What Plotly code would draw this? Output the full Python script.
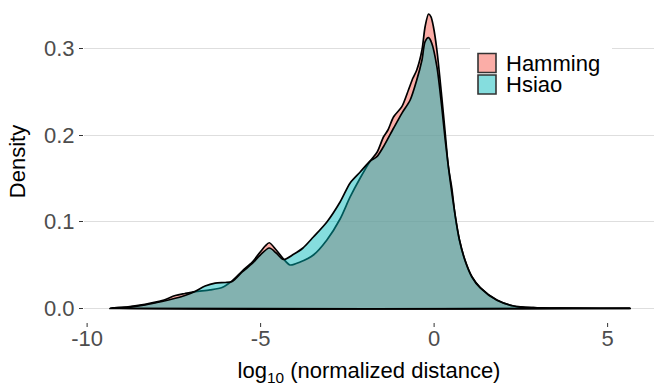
import plotly.graph_objects as go

# ---- data (x = log10 normalized distance, y = density) ----
hamming_x = [-9.34, -8.82, -8.33, -7.84, -7.46, -7.18, -6.89, -6.46, -6.11, -5.82,
             -5.53, -5.24, -5.01, -4.87, -4.75, -4.55, -4.34, -4.15, -3.86, -3.48,
             -3.09, -2.71, -2.42, -2.13, -1.84, -1.64, -1.46, -1.33, -1.17, -0.93,
             -0.74, -0.61, -0.50, -0.35, -0.26, -0.16, -0.09, -0.02, 0.08, 0.22,
             0.32, 0.41, 0.51, 0.61, 0.73, 0.89, 1.09, 1.33, 1.81, 2.29,
             2.86, 3.63, 5.65]
hamming_y = [0.0000, 0.0017, 0.0046, 0.0088, 0.0148, 0.0171, 0.0192, 0.0212, 0.0240, 0.0316,
             0.0431, 0.0535, 0.0651, 0.0720, 0.0758, 0.0674, 0.0570, 0.0501, 0.0535, 0.0616,
             0.0790, 0.1032, 0.1287, 0.1506, 0.1703, 0.1807, 0.1980, 0.2061, 0.2212, 0.2331,
             0.2524, 0.2662, 0.2755, 0.2986, 0.3255, 0.3402, 0.3368, 0.3255, 0.2986, 0.2446,
             0.2023, 0.1637, 0.1390, 0.1059, 0.0790, 0.0558, 0.0365, 0.0240, 0.0096, 0.0027,
             0.0007, 0.0001, 0.0000]

hsiao_x = [-9.34, -8.82, -8.33, -7.84, -7.46, -7.18, -6.89, -6.60, -6.31, -6.02,
           -5.82, -5.53, -5.24, -5.01, -4.75, -4.55, -4.34, -4.05, -3.78, -3.48,
           -3.09, -2.71, -2.42, -2.13, -1.84, -1.65, -1.46, -1.17, -0.93, -0.69,
           -0.50, -0.35, -0.26, -0.16, -0.07, 0.08, 0.22, 0.32, 0.46, 0.61,
           0.73, 0.89, 1.09, 1.33, 1.81, 2.29, 2.86, 3.63, 5.65]
hsiao_y = [0.0000, 0.0015, 0.0040, 0.0079, 0.0116, 0.0148, 0.0194, 0.0258, 0.0292, 0.0298,
           0.0310, 0.0420, 0.0518, 0.0616, 0.0697, 0.0639, 0.0564, 0.0624, 0.0697, 0.0824,
           0.0998, 0.1229, 0.1449, 0.1576, 0.1703, 0.1753, 0.1868, 0.2081, 0.2254, 0.2408,
           0.2639, 0.2870, 0.3082, 0.3128, 0.3067, 0.2793, 0.2331, 0.1946, 0.1483, 0.1067,
           0.0790, 0.0553, 0.0362, 0.0235, 0.0092, 0.0027, 0.0007, 0.0001, 0.0000]

series_names = ["Hamming", "Hsiao"]
x_tick_vals = [-10, -5, 0, 5]
x_tick_text = ["-10", "-5", "0", "5"]
y_tick_vals = [0.0, 0.1, 0.2, 0.3]
y_tick_text = ["0.0", "0.1", "0.2", "0.3"]

# ---- styling ----
FONT = "Liberation Sans, Arial, Helvetica, sans-serif"
fills = ["rgba(248,118,109,0.6)", "rgba(0,184,186,0.48)"]
W, H = 654, 386
ML, MR, MT, MB = 84, 0, 0, 63
PW, PH = W - ML - MR, H - MT - MB

def px(xp):
    return (xp - ML) / PW

def py(yp):
    return (MT + PH - yp) / PH

fig = go.Figure()
for name, xs, ys, fc in [(series_names[0], hamming_x, hamming_y, fills[0]),
                         (series_names[1], hsiao_x, hsiao_y, fills[1])]:
    fig.add_trace(go.Scatter(
        x=xs + [xs[0]], y=ys + [ys[0]],
        mode="lines", fill="toself", fillcolor=fc,
        line=dict(color="black", width=1.7, shape="spline", smoothing=0.8),
        name=name, showlegend=False, hoverinfo="skip"))

# legend drawn manually (ggplot-style square keys)
shapes = [dict(type="rect", xref="paper", yref="paper",
               x0=px(470), x1=px(612), y0=py(100), y1=py(40),
               fillcolor="white", line=dict(width=0), layer="above")]
annotations = []
key_tops = [53.5, 75.0]
for i, name in enumerate(series_names):
    t = key_tops[i]
    shapes.append(dict(type="rect", xref="paper", yref="paper",
                       x0=px(478), x1=px(496), y0=py(t + 19), y1=py(t),
                       fillcolor=fills[i], line=dict(color="#333333", width=1.6),
                       layer="above"))
    annotations.append(dict(x=px(504), y=py(t + 9.8), xref="paper", yref="paper",
                            text=name, showarrow=False, xanchor="left", yanchor="middle",
                            font=dict(family=FONT, size=22, color="black")))

# x-axis tick marks (drawn as short lines below the panel)
for v in x_tick_vals:
    shapes.append(dict(type="line", xref="x", yref="paper",
                       x0=v, x1=v, y0=0, y1=-4.0 / PH,
                       line=dict(color="#333333", width=1)))

fig.update_layout(
    width=W, height=H,
    margin=dict(l=ML, r=MR, t=MT, b=MB, pad=0, autoexpand=False),
    paper_bgcolor="white", plot_bgcolor="white",
    font=dict(family=FONT, size=22, color="black"),
    shapes=shapes, annotations=annotations,
    showlegend=False,
)
fig.update_xaxes(
    range=[-10.09, 6.337], showgrid=False, zeroline=False, showline=False,
    automargin=False,
    tickmode="array", tickvals=x_tick_vals, ticktext=x_tick_text,
    ticks="", ticklen=0,
    tickfont=dict(family=FONT, size=22, color="#4D4D4D"),
    title=dict(text="log<sub>10</sub> (normalized distance)",
               font=dict(family=FONT, size=22, color="black"), standoff=25),
)
fig.update_yaxes(
    range=[-0.0170, 0.3564], showgrid=True, gridcolor="#DEDEDE", gridwidth=1.2,
    zeroline=False, showline=False, automargin=False,
    tickmode="array", tickvals=y_tick_vals, ticktext=y_tick_text,
    ticks="outside", ticklen=4, tickwidth=1, tickcolor="#333333",
    tickfont=dict(family=FONT, size=22, color="#4D4D4D"),
    title=dict(text="Density", font=dict(family=FONT, size=22, color="black"),
               standoff=12),
)

fig.write_html("out.html")
